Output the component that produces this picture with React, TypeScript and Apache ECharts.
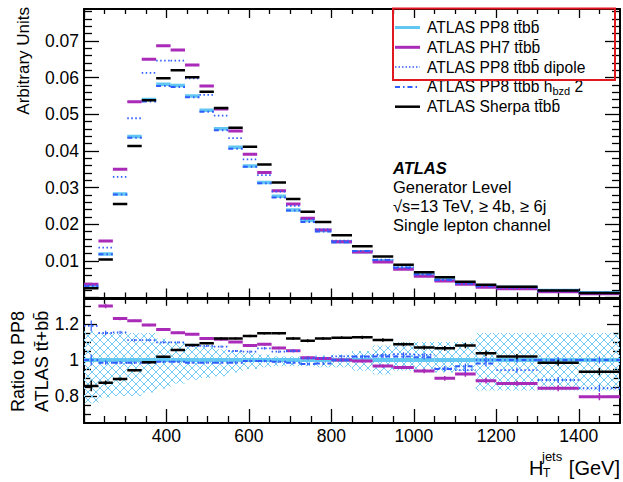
import React, { useEffect, useRef } from "react";
import * as echarts from "echarts";

// ---- data ----
const binEdges = [200, 235, 270, 305, 340, 375, 410, 445, 480, 515, 550, 585, 620, 655, 690, 725, 760, 800, 850, 900, 950, 1000, 1050, 1100, 1150, 1200, 1300, 1400, 1500];

const pp8 = [0.0030, 0.0119, 0.0282, 0.0439, 0.0540, 0.0582, 0.0578, 0.0550, 0.0511, 0.0460, 0.0410, 0.0359, 0.0314, 0.0276, 0.0239, 0.0210, 0.0183, 0.0152, 0.0125, 0.0100, 0.0080, 0.0062, 0.0050, 0.0039, 0.0032, 0.0028, 0.0019, 0.0013];
const ph7 = [0.0036, 0.0154, 0.0350, 0.0534, 0.0650, 0.0687, 0.0675, 0.0634, 0.0577, 0.0514, 0.0454, 0.0391, 0.0341, 0.0291, 0.0255, 0.0216, 0.0184, 0.0152, 0.0124, 0.0097, 0.0077, 0.0058, 0.0045, 0.0036, 0.0028, 0.0024, 0.0016, 0.0010];
const pp8Dipole = [0.0033, 0.0136, 0.0329, 0.0489, 0.0613, 0.0646, 0.0646, 0.0598, 0.0553, 0.0496, 0.0435, 0.0377, 0.0334, 0.0289, 0.0250, 0.0213, 0.0186, 0.0155, 0.0127, 0.0103, 0.0083, 0.0064, 0.0048, 0.0037, 0.0032, 0.0026, 0.0017, 0.0011];
const pp8Hbzd = [0.0030, 0.0118, 0.0281, 0.0436, 0.0535, 0.0577, 0.0574, 0.0546, 0.0507, 0.0456, 0.0406, 0.0357, 0.0312, 0.0273, 0.0237, 0.0206, 0.0180, 0.0151, 0.0127, 0.0102, 0.0081, 0.0063, 0.0048, 0.0039, 0.0031, 0.0028, 0.0019, 0.0013];
const sherpa = [0.0025, 0.0104, 0.0255, 0.0413, 0.0538, 0.0598, 0.0620, 0.0601, 0.0561, 0.0517, 0.0463, 0.0411, 0.0363, 0.0314, 0.0269, 0.0234, 0.0206, 0.0170, 0.0140, 0.0112, 0.0089, 0.0069, 0.0055, 0.0043, 0.0035, 0.0029, 0.0019, 0.0012];

const ratioPP8 = [1, 1, 1, 1, 1, 1, 1, 1, 1, 1, 1, 1, 1, 1, 1, 1, 1, 1, 1, 1, 1, 1, 1, 1, 1, 1, 1, 1];
const ratioPH7 = [1.42, 1.30, 1.23, 1.218, 1.194, 1.17, 1.152, 1.143, 1.12, 1.115, 1.10, 1.08, 1.087, 1.067, 1.052, 1.013, 1.009, 1.0, 0.994, 0.967, 0.959, 0.939, 0.898, 0.922, 0.885, 0.87, 0.843, 0.796];
const ratioDipole = [1.19, 1.15, 1.154, 1.11, 1.11, 1.098, 1.098, 1.078, 1.078, 1.074, 1.05, 1.046, 1.065, 1.046, 1.05, 1.01, 1.01, 1.02, 1.018, 1.028, 1.033, 1.028, 0.954, 0.944, 1.0, 0.944, 0.889, 0.843];
const ratioHbzd = [1.0, 0.985, 0.985, 0.985, 0.985, 0.99, 0.99, 0.985, 0.985, 0.985, 0.985, 0.994, 0.994, 0.99, 0.985, 0.978, 0.98, 1.0, 1.02, 1.02, 1.02, 1.015, 0.95, 0.965, 0.98, 1.0, 1.0, 1.0];
const ratioSherpa = [0.856, 0.874, 0.894, 0.943, 0.987, 1.018, 1.056, 1.083, 1.093, 1.12, 1.12, 1.133, 1.148, 1.148, 1.12, 1.107, 1.12, 1.124, 1.126, 1.111, 1.087, 1.069, 1.065, 1.08, 1.037, 1.019, 0.985, 0.935];
const ratioErr = [0.03, 0.012, 0.009, 0.007, 0.006, 0.006, 0.006, 0.006, 0.006, 0.006, 0.006, 0.007, 0.007, 0.007, 0.008, 0.008, 0.008, 0.008, 0.009, 0.01, 0.01, 0.012, 0.013, 0.015, 0.016, 0.015, 0.017, 0.02];

const bandUp = [1.16, 1.15, 1.15, 1.15, 1.15, 1.12, 1.10, 1.09, 1.08, 1.06, 1.05, 1.04, 1.03, 1.02, 1.02, 1.02, 1.025, 1.03, 1.05, 1.08, 1.10, 1.10, 1.10, 1.10, 1.15, 1.15, 1.15, 1.15];
const bandDown = [0.76, 0.79, 0.80, 0.80, 0.82, 0.84, 0.87, 0.89, 0.90, 0.91, 0.93, 0.95, 0.96, 0.965, 0.965, 0.965, 0.96, 0.96, 0.94, 0.92, 0.94, 0.94, 0.93, 0.94, 0.83, 0.83, 0.83, 0.83];

const xMajorTicks = [200, 400, 600, 800, 1000, 1200, 1400];
const xMinorTicks = [250, 300, 350, 450, 500, 550, 650, 700, 750, 850, 900, 950, 1050, 1100, 1150, 1250, 1300, 1350, 1450];
const xTickLabels = [400, 600, 800, 1000, 1200, 1400];
const yTopMajorTicks = [0, 0.01, 0.02, 0.03, 0.04, 0.05, 0.06, 0.07];
const yTopTickLabels = [0.01, 0.02, 0.03, 0.04, 0.05, 0.06, 0.07];
const yRatioMajorTicks = [0.8, 1.0, 1.2];
const yRatioMinorTicks = [0.7, 0.75, 0.85, 0.9, 0.95, 1.05, 1.1, 1.15, 1.25, 1.3];
const yRatioTickLabels = [0.8, 1, 1.2];

const TT = "tt\u0304bb\u0304";
const legendLabels = [
  `ATLAS PP8 ${TT}`,
  `ATLAS PH7 ${TT}`,
  `ATLAS PP8 ${TT} dipole`,
  "ATLAS PP8 ttbb h",
  `ATLAS Sherpa ${TT}`,
];

const FONT = '"Liberation Sans", Arial, Helvetica, sans-serif';
const C_PP8 = "#62c6f2";
const C_PH7 = "#a92bb8";
const C_BLUE = "#2f5cff";
const C_BLACK = "#000000";

function yTopMinor(): number[] {
  const out: number[] = [];
  for (let i = 1; i < 40; i++) {
    if (i % 5 !== 0) out.push(+(i * 0.002).toFixed(3));
  }
  return out;
}

type Sty = { color: string; width: number; dash?: number[] | null; ewidth?: number };

function stepSeries(name: string, vals: number[], xi: number, yi: number, s: Sty, errs?: number[]) {
  return {
    type: "custom",
    name,
    xAxisIndex: xi,
    yAxisIndex: yi,
    clip: true,
    silent: true,
    encode: { x: [0, 1], y: 2 },
    data: vals.map((v, i) => [binEdges[i], binEdges[i + 1], v, errs ? errs[i] : 0]),
    renderItem: (_p: any, api: any) => {
      const lo = api.value(0), hi = api.value(1), v = api.value(2), e = api.value(3);
      const a = api.coord([lo, v]);
      const b = api.coord([hi, v]);
      const children: any[] = [
        {
          type: "line",
          shape: { x1: a[0], y1: a[1], x2: b[0], y2: b[1] },
          style: { stroke: s.color, lineWidth: s.width, lineDash: s.dash || null, fill: null },
        },
      ];
      if (e > 0) {
        const mid = (lo + hi) / 2;
        const t = api.coord([mid, v + e]);
        const bt = api.coord([mid, v - e]);
        children.push({
          type: "line",
          shape: { x1: t[0], y1: t[1], x2: bt[0], y2: bt[1] },
          style: { stroke: s.color, lineWidth: s.ewidth || 1.5, fill: null },
        });
      }
      return { type: "group", children };
    },
  };
}

function xAx(grid: number, pos: string, ticks: number[], len: number, showLine: boolean, labels?: number[]) {
  return {
    type: "value",
    gridIndex: grid,
    position: pos,
    min: 200,
    max: 1500,
    axisLine: { show: showLine, onZero: false, lineStyle: { color: "#000", width: 2 } },
    axisTick: { show: true, inside: true, length: len, customValues: ticks, lineStyle: { color: "#000", width: 1.3 } },
    axisLabel: labels
      ? { show: true, customValues: labels, margin: 4, fontSize: 17.5, color: "#000", fontFamily: FONT, formatter: (v: number) => String(v) }
      : { show: false },
    splitLine: { show: false },
  };
}

function yAx(grid: number, pos: string, min: number, max: number, ticks: number[], len: number, showLine: boolean, labels?: number[], fmt?: (v: number) => string) {
  return {
    type: "value",
    gridIndex: grid,
    position: pos,
    min,
    max,
    axisLine: { show: showLine, onZero: false, lineStyle: { color: "#000", width: 2 } },
    axisTick: { show: true, inside: true, length: len, customValues: ticks, lineStyle: { color: "#000", width: 1.3 } },
    axisLabel: labels
      ? { show: true, customValues: labels, margin: 5, fontSize: 17.5, color: "#000", fontFamily: FONT, formatter: fmt }
      : { show: false },
    splitLine: { show: false },
  };
}

export default function App() {
  const ref = useRef<HTMLDivElement>(null);

  useEffect(() => {
    if (!ref.current) return;
    const chart = echarts.init(ref.current, null, { renderer: "svg" });

    const hatch = document.createElement("canvas");
    hatch.width = 8;
    hatch.height = 8;
    const ctx = hatch.getContext("2d")!;
    ctx.strokeStyle = "#74cdf0";
    ctx.lineWidth = 1;
    ctx.beginPath();
    ctx.moveTo(0, 0);
    ctx.lineTo(8, 8);
    ctx.moveTo(8, 0);
    ctx.lineTo(0, 8);
    ctx.stroke();
    const hatchFill: any = { image: hatch, repeat: "repeat", imageWidth: 8, imageHeight: 8 };

    const legendX0 = 395, legendX1 = 420, legendTextX = 427;
    const rowY = (i: number) => 27.5 + i * 19.8;
    const legendStyles: Sty[] = [
      { color: C_PP8, width: 3 },
      { color: C_PH7, width: 3 },
      { color: C_BLUE, width: 1.5, dash: [1.5, 2] },
      { color: C_BLUE, width: 2, dash: [5, 3, 1.5, 3] },
      { color: C_BLACK, width: 2.5 },
    ];

    const graphic: any[] = [];
    legendStyles.forEach((s, i) => {
      graphic.push({
        type: "line",
        shape: { x1: legendX0, y1: rowY(i), x2: legendX1, y2: rowY(i) },
        style: { stroke: s.color, lineWidth: s.width, lineDash: s.dash || null },
      });
      if (i === 3) {
        graphic.push({
          type: "text",
          x: legendTextX,
          y: rowY(i),
          style: {
            text: `{a|${legendLabels[i]}}{s|bzd}{a| 2}`,
            verticalAlign: "middle",
            rich: {
              a: { fontSize: 15.6, fontFamily: FONT, fill: "#000", lineHeight: 20, verticalAlign: "middle" },
              s: { fontSize: 11, fontFamily: FONT, fill: "#000", lineHeight: 9, verticalAlign: "bottom" },
            },
          },
        });
      } else {
        graphic.push({
          type: "text",
          x: legendTextX,
          y: rowY(i),
          style: { text: legendLabels[i], fontSize: 15.6, fontFamily: FONT, fill: "#000", verticalAlign: "middle" },
        });
      }
    });
    graphic.push({
      type: "rect",
      shape: { x: 393, y: 8.5, width: 222, height: 71.5 },
      style: { fill: null, stroke: "#e0181f", lineWidth: 2 },
      z: 100,
    });

    // ATLAS label block
    graphic.push({
      type: "text", x: 393, y: 168,
      style: { text: "ATLAS", fontSize: 16.5, fontWeight: "bold", fontStyle: "italic", fontFamily: FONT, fill: "#000", verticalAlign: "middle" },
    });
    ["Generator Level", "\u221As=13 TeV, \u2265 4b, \u2265 6j", "Single lepton channel"].forEach((t, i) => {
      graphic.push({
        type: "text", x: 393, y: 187 + i * 19,
        style: { text: t, fontSize: 16.5, fontFamily: FONT, fill: "#000", verticalAlign: "middle" },
      });
    });

    // axis titles
    graphic.push({
      type: "text", x: 23, y: 7, rotation: Math.PI / 2,
      style: { text: "Arbitrary Units", fontSize: 17, fontFamily: FONT, fill: "#000", align: "right", verticalAlign: "middle" },
    });
    graphic.push({
      type: "text", x: 18, y: 412, rotation: Math.PI / 2,
      style: { text: "Ratio to PP8", fontSize: 18, fontFamily: FONT, fill: "#000", align: "left", verticalAlign: "middle" },
    });
    graphic.push({
      type: "text", x: 42, y: 412, rotation: Math.PI / 2,
      style: { text: "ATLAS tt\u0304+bb\u0304", fontSize: 18, fontFamily: FONT, fill: "#000", align: "left", verticalAlign: "middle" },
    });
    graphic.push({
      type: "text", x: 529, y: 467.5,
      style: { text: "H", fontSize: 20, fontFamily: FONT, fill: "#000", verticalAlign: "middle" },
    });
    graphic.push({
      type: "text", x: 542, y: 456,
      style: { text: "jets", fontSize: 13, fontFamily: FONT, fill: "#000", verticalAlign: "middle" },
    });
    graphic.push({
      type: "text", x: 543, y: 472.5,
      style: { text: "T", fontSize: 12, fontFamily: FONT, fill: "#000", verticalAlign: "middle" },
    });
    graphic.push({
      type: "text", x: 620, y: 467.5,
      style: { text: "[GeV]", fontSize: 20, fontFamily: FONT, fill: "#000", align: "right", verticalAlign: "middle" },
    });

    const topMax = 0.0787;
    const option: any = {
      animation: false,
      backgroundColor: "#ffffff",
      grid: [
        { left: 84, top: 9, width: 536, height: 288.5, outerBoundsMode: "none" },
        { left: 84, top: 298.8, width: 536, height: 124.2, outerBoundsMode: "none" },
      ],
      xAxis: [
        xAx(0, "bottom", xMajorTicks, 9, true),
        xAx(0, "bottom", xMinorTicks, 5, false),
        xAx(0, "top", xMajorTicks, 9, true),
        xAx(0, "top", xMinorTicks, 5, false),
        xAx(1, "bottom", xMajorTicks, 14, true, xTickLabels),
        xAx(1, "bottom", xMinorTicks, 7, false),
        xAx(1, "top", xMajorTicks, 7, true),
        xAx(1, "top", xMinorTicks, 5, false),
      ],
      yAxis: [
        yAx(0, "left", 0, topMax, yTopMajorTicks, 15, true, yTopTickLabels, (v: number) => v.toFixed(2)),
        yAx(0, "left", 0, topMax, yTopMinor(), 8, false),
        yAx(0, "right", 0, topMax, yTopMajorTicks, 15, true),
        yAx(0, "right", 0, topMax, yTopMinor(), 8, false),
        yAx(1, "left", 0.65, 1.34, yRatioMajorTicks, 13, true, yRatioTickLabels, (v: number) => String(+v.toFixed(1))),
        yAx(1, "left", 0.65, 1.34, yRatioMinorTicks, 7, false),
        yAx(1, "right", 0.65, 1.34, yRatioMajorTicks, 13, true),
        yAx(1, "right", 0.65, 1.34, yRatioMinorTicks, 7, false),
      ],
      series: [
        // top panel
        stepSeries("ATLAS PP8", pp8, 0, 0, { color: C_PP8, width: 3.5 }),
        stepSeries("ATLAS PH7", ph7, 0, 0, { color: C_PH7, width: 3 }),
        stepSeries("ATLAS PP8 dipole", pp8Dipole, 0, 0, { color: C_BLUE, width: 1.8, dash: [1.5, 2.5] }),
        stepSeries("ATLAS PP8 hbzd 2", pp8Hbzd, 0, 0, { color: C_BLUE, width: 2, dash: [5, 3, 1.5, 3] }),
        stepSeries("ATLAS Sherpa", sherpa, 0, 0, { color: C_BLACK, width: 2.5 }),
        // ratio panel
        {
          type: "custom",
          name: "PP8 uncertainty",
          xAxisIndex: 4,
          yAxisIndex: 4,
          clip: true,
          silent: true,
          encode: { x: [0, 1], y: [2, 3] },
          data: bandUp.map((u, i) => [binEdges[i], binEdges[i + 1], bandDown[i], u]),
          renderItem: (_p: any, api: any) => {
            const a = api.coord([api.value(0), api.value(3)]);
            const b = api.coord([api.value(1), api.value(2)]);
            return {
              type: "rect",
              shape: { x: a[0], y: a[1], width: b[0] - a[0], height: b[1] - a[1] },
              style: { fill: hatchFill, stroke: null },
            };
          },
        },
        stepSeries("r PP8", ratioPP8, 4, 4, { color: C_PP8, width: 4 }),
        stepSeries("r PH7", ratioPH7, 4, 4, { color: C_PH7, width: 3 }, ratioErr),
        stepSeries("r dipole", ratioDipole, 4, 4, { color: C_BLUE, width: 1.8, dash: [1.5, 2.5], ewidth: 1.2 }, ratioErr),
        stepSeries("r hbzd", ratioHbzd, 4, 4, { color: C_BLUE, width: 2, dash: [5, 3, 1.5, 3], ewidth: 1.2 }, ratioErr),
        stepSeries("r Sherpa", ratioSherpa, 4, 4, { color: C_BLACK, width: 2.5 }, ratioErr),
      ],
      graphic,
    };

    chart.setOption(option);
    return () => chart.dispose();
  }, []);

  return <div ref={ref} style={{ position: "absolute", left: 0, top: 0, width: 623, height: 482, background: "#fff" }} />;
}
